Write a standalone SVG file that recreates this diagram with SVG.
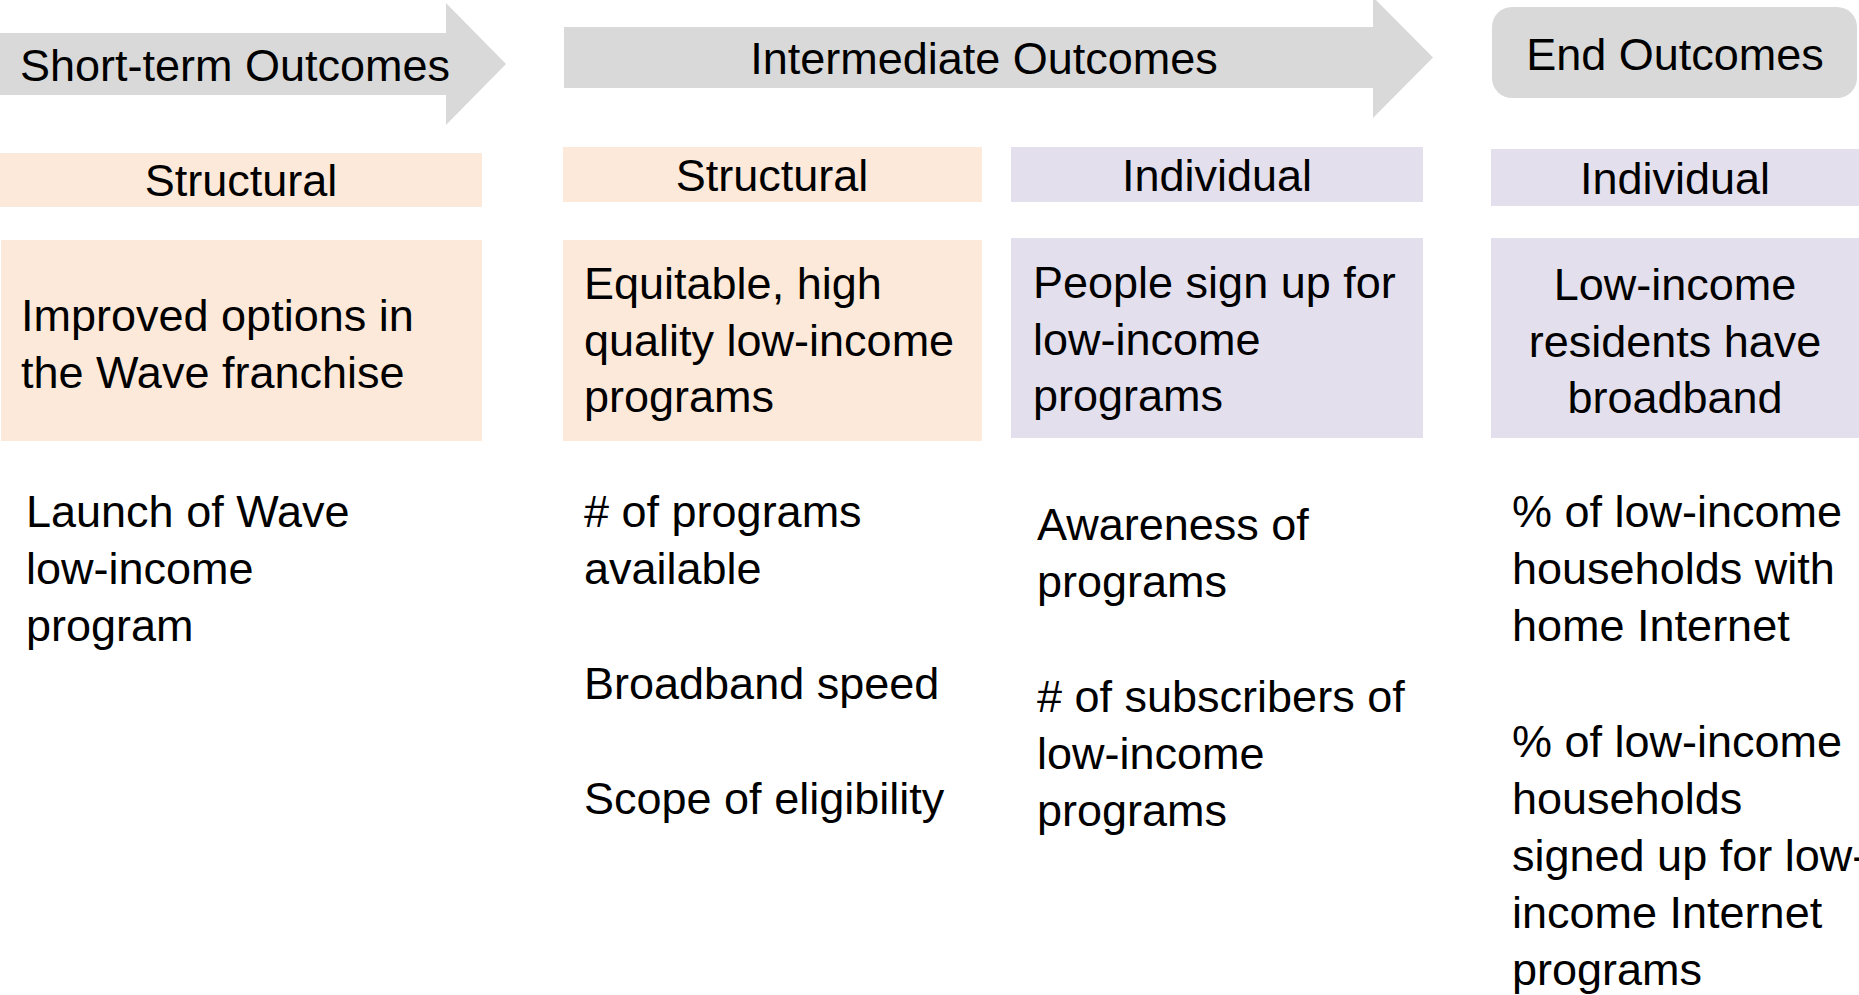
<svg xmlns="http://www.w3.org/2000/svg" width="1859" height="995" viewBox="0 0 1859 995">
<style>
text{font-family:"Liberation Sans",Arial,sans-serif;font-size:45px;fill:#000}
.c{text-anchor:middle}
.g{fill:#d9d9d9}
.s{fill:#fde9d9}
.i{fill:#e4dfec}
</style>
<rect width="1859" height="995" fill="#fff"/>
<g id="short-term-arrow">
<polygon class="g" points="0,33 446,33 446,3 506,64 446,125 446,95 0,95"/>
<text x="20" y="81">Short-term Outcomes</text>
</g>
<g id="intermediate-arrow">
<polygon class="g" points="564,27 1373,27 1373,-3 1433,57.5 1373,118 1373,88 564,88"/>
<text class="c" x="984" y="74">Intermediate Outcomes</text>
</g>
<g id="end-outcomes">
<rect class="g" x="1492" y="7" width="365" height="91" rx="20"/>
<text class="c" x="1675" y="70">End Outcomes</text>
</g>
<g id="structural-1">
<rect class="s" x="0" y="153" width="482" height="54"/>
<text class="c" x="241" y="196">Structural</text>
</g>
<g id="structural-2">
<rect class="s" x="563" y="147" width="419" height="55"/>
<text class="c" x="772" y="191">Structural</text>
</g>
<g id="individual-1">
<rect class="i" x="1011" y="147" width="412" height="55"/>
<text class="c" x="1217" y="191">Individual</text>
</g>
<g id="individual-2">
<rect class="i" x="1491" y="149" width="368" height="57"/>
<text class="c" x="1675" y="194">Individual</text>
</g>
<g id="improved-options">
<rect class="s" x="1" y="240" width="481" height="201"/>
<text x="21" y="331">Improved options in</text>
<text x="21" y="388">the Wave franchise</text>
</g>
<g id="equitable-programs">
<rect class="s" x="563" y="240" width="419" height="201"/>
<text x="584" y="299">Equitable, high</text>
<text x="584" y="356">quality low-income</text>
<text x="584" y="412">programs</text>
</g>
<g id="people-sign-up">
<rect class="i" x="1011" y="238" width="412" height="200"/>
<text x="1033" y="298">People sign up for</text>
<text x="1033" y="355">low-income</text>
<text x="1033" y="411">programs</text>
</g>
<g id="residents-broadband">
<rect class="i" x="1491" y="238" width="368" height="200"/>
<text class="c" x="1675" y="300">Low-income</text>
<text class="c" x="1675" y="357">residents have</text>
<text class="c" x="1675" y="413">broadband</text>
</g>
<g id="indicators-short-term">
<text x="26" y="527">Launch of Wave</text>
<text x="26" y="584">low-income</text>
<text x="26" y="641">program</text>
</g>
<g id="indicators-structural">
<text x="584" y="527">
# of programs</text>
<text x="584" y="584">available</text>
<text x="584" y="699">Broadband speed</text>
<text x="584" y="814">Scope of eligibility</text>
</g>
<g id="indicators-individual">
<text x="1037" y="540">Awareness of</text>
<text x="1037" y="597">programs</text>
<text x="1037" y="712">
# of subscribers of</text>
<text x="1037" y="769">low-income</text>
<text x="1037" y="826">programs</text>
</g>
<g id="indicators-end">
<text x="1512" y="527">% of low-income</text>
<text x="1512" y="584">households with</text>
<text x="1512" y="641">home Internet</text>
<text x="1512" y="757">% of low-income</text>
<text x="1512" y="814">households</text>
<text x="1512" y="871">signed up for low-</text>
<text x="1512" y="928">income Internet</text>
<text x="1512" y="985">programs</text>
</g>
<g id="connectors"></g>
</svg>
